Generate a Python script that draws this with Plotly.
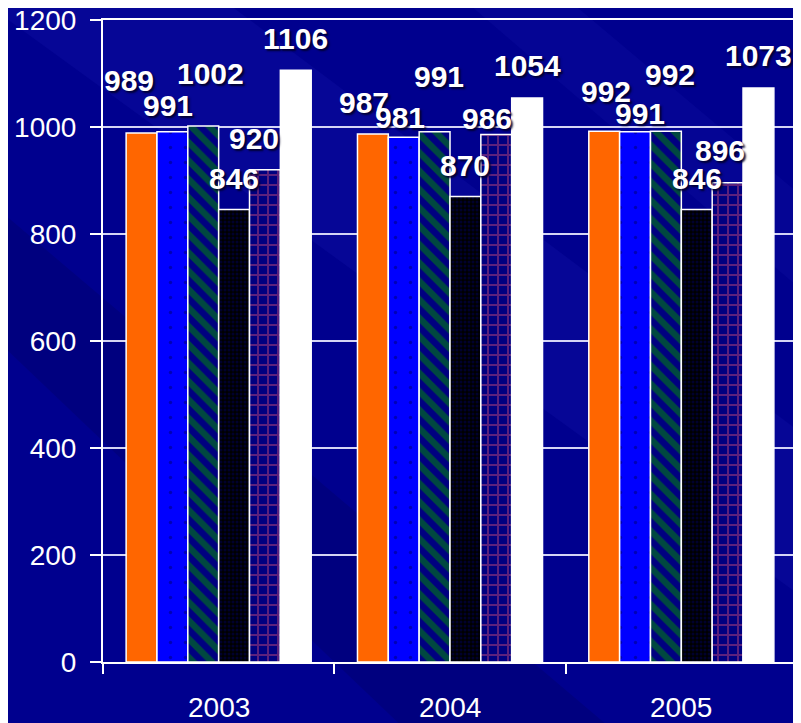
import plotly.graph_objects as go

years = ["2003", "2004", "2005"]
series_names = ["S1", "S2", "S3", "S4", "S5", "S6"]
s1 = [989, 987, 992]
s2 = [991, 981, 991]
s3 = [1002, 991, 992]
s4 = [846, 870, 846]
s5 = [920, 986, 896]
s6 = [1106, 1054, 1073]
values = [s1, s2, s3, s4, s5, s6]

y_ticks = [0, 200, 400, 600, 800, 1000, 1200]

# label offsets (pixels) from bar centre/top, per series per year
label_dx = [[-13, -9, 2], [-4, -4, 5], [7, 4, 4], [0, 0, 0], [-11, -9, -8], [0, 0, 0]]
label_dy = [[52, 31, 40], [26, 20, 18], [52, 55, 57], [31, 31, 31], [31, 16, 32], [32, 33, 32]]

styles = [
    dict(color="#FF6600"),
    dict(color="#0000FF", pattern=dict(shape=".", fgcolor="#000070", bgcolor="#0000FF", size=15, solidity=0.04)),
    dict(color="#000080", pattern=dict(shape="\\", fgcolor="#009000", bgcolor="#000080", size=13, solidity=0.5)),
    dict(color="#000000", pattern=dict(shape=".", fgcolor="#00005A", bgcolor="#000000", size=4, solidity=0.45)),
    dict(color="#000080", pattern=dict(shape="+", fgcolor="#B8447A", bgcolor="#000080", size=10, solidity=0.35)),
    dict(color="#FFFFFF"),
]

fig = go.Figure()
for name, vals, st in zip(series_names, values, styles):
    fig.add_trace(go.Bar(
        x=years, y=vals, name=name,
        marker=dict(**st, line=dict(color="white", width=1.5)),
        hoverinfo="skip",
    ))

W, H = 793, 715
ML, MR, MT, MB = 95, 4, 12, 61
plot_w = W - ML - MR
cat_w = plot_w / len(years)
bar_w = cat_w * 0.8 / len(series_names)

label_font = dict(family="Liberation Sans, Arial", size=30, color="white",
                  weight="bold", shadow="2px 2px 2px rgba(0,0,40,0.9)")

annotations = []
for i, vals in enumerate(values):
    for j, v in enumerate(vals):
        annotations.append(dict(
            x=j, y=v, xref="x", yref="y",
            text=str(v), showarrow=False,
            xshift=(i - 2.5) * bar_w + label_dx[i][j],
            yshift=label_dy[i][j],
            xanchor="center", yanchor="middle",
            font=label_font,
        ))

# category labels
for j, yr in enumerate(years):
    annotations.append(dict(
        x=j, y=0, xref="x", yref="y", text=yr, showarrow=False,
        yshift=-45, xanchor="center", yanchor="middle",
        font=dict(family="Liberation Sans, Arial", size=28, color="white"),
    ))

# subtle diagonal background streaks
shapes = [
    dict(type="path", xref="paper", yref="paper", layer="below",
         path="M -0.2 1.05 L 0.15 1.05 L 1.2 0.2 L 1.2 -0.05 Z",
         fillcolor="rgba(40,40,200,0.14)", line=dict(width=0)),
    dict(type="path", xref="paper", yref="paper", layer="below",
         path="M 0.5 1.05 L 0.65 1.05 L 1.2 0.55 L 1.2 0.4 Z",
         fillcolor="rgba(40,40,200,0.12)", line=dict(width=0)),
    dict(type="path", xref="paper", yref="paper", layer="below",
         path="M -0.2 0.75 L -0.2 0.55 L 0.45 -0.12 L 0.75 -0.12 Z",
         fillcolor="rgba(0,0,60,0.18)", line=dict(width=0)),
]

fig.update_layout(
    width=W, height=H,
    margin=dict(l=ML, r=MR, t=MT, b=MB, autoexpand=False),
    paper_bgcolor="#00008E",
    plot_bgcolor="rgba(0,0,0,0)",
    barmode="group", bargap=0.2, bargroupgap=0,
    showlegend=False,
    annotations=annotations,
    shapes=shapes,
    font=dict(family="Liberation Sans, Arial", color="white"),
)
fig.update_xaxes(
    type="category", categoryorder="array", categoryarray=years,
    range=[-0.5, len(years) - 0.5],
    tickson="boundaries", ticks="outside", ticklen=10,
    tickwidth=1.5, tickcolor="white",
    showline=True, linecolor="white", linewidth=2, mirror=True,
    showgrid=False, showticklabels=False,
)
fig.update_yaxes(
    range=[0, 1200], tickvals=y_ticks, ticks="outside", ticklen=11,
    tickwidth=1.5, tickcolor="white",
    showline=True, linecolor="white", linewidth=2, mirror=True,
    showgrid=True, gridcolor="rgba(235,235,255,0.9)", gridwidth=1.5,
    zeroline=False, ticklabeloverflow="allow",
    tickfont=dict(size=28, color="white"), ticklabelstandoff=8,
)

fig.write_html("out.html")
